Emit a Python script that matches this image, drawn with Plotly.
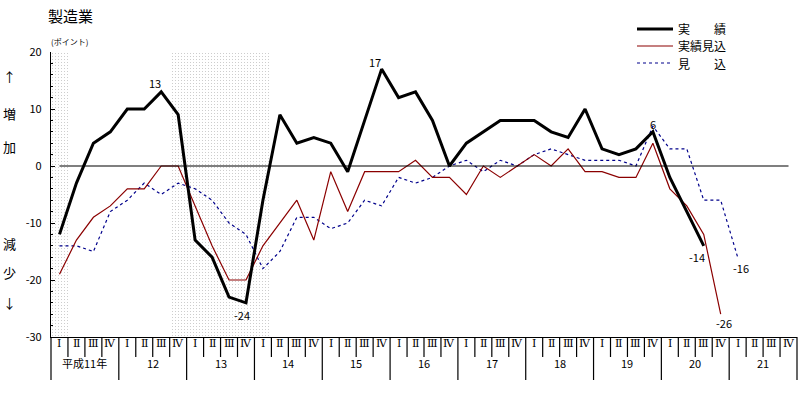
import plotly.graph_objects as go

# ---- data ----
quarter_names = ["Ⅰ", "Ⅱ", "Ⅲ", "Ⅳ"]
year_labels = ["平成11年", "12", "13", "14", "15", "16", "17", "18", "19", "20", "21"]
jisseki = [-12, -3, 4, 6, 10, 10, 13, 9, -13, -16, -23, -24, -6, 9, 4, 5, 4, -1, 8, 17,
           12, 13, 8, 0, 4, 6, 8, 8, 8, 6, 5, 10, 3, 2, 3, 6, -2, -8, -14]
jisseki_mikomi = [-19, -13, -9, -7, -4, -4, 0, 0, -7, -14, -20, -20, -14, -10, -6, -13, -1, -8, -1, -1,
                  -1, 1, -2, -2, -5, 0, -2, 0, 2, 0, 3, -1, -1, -2, -2, 4, -4, -7, -12, -26]
mikomi = [-14, -14, -15, -8, -6, -3, -5, -3, -4, -6, -10, -12, -18, -15, -9, -9, -11, -10, -6, -7,
          -2, -3, -2, 0, 1, -1, 1, 0, 2, 3, 2, 1, 1, 1, 0, 7, 3, 3, -6, -6, -16]
shaded_quarters = [0, 7, 8, 9, 10, 11, 12]
y_ticks = [20, 10, 0, -10, -20, -30]
series_names = ["実　　績", "実績見込", "見　　込"]

n_q = len(year_labels) * 4
FONT = "Noto Sans CJK JP"
ROMAN_FONT = "DejaVu Serif, Liberation Serif, serif"
W, H = 811, 396
ML, MR, MT, MB = 51, 14, 52, 59
PW, PH = W - ML - MR, H - MT - MB


def px_x(p):
    return (p - ML) / PW


def px_y(p):
    return (H - MB - p) / PH


fig = go.Figure()

# shaded periods
fig.add_trace(go.Bar(
    x=shaded_quarters, y=[50] * len(shaded_quarters), base=-30, width=1,
    marker=dict(color="white", line=dict(width=0),
                pattern=dict(shape=".", fgcolor="#8a8a8a", bgcolor="white", size=3, solidity=0.12)),
    showlegend=False, hoverinfo="skip"))

fig.add_trace(go.Scatter(x=list(range(len(mikomi))), y=mikomi, mode="lines",
                         line=dict(color="#00008b", width=1.2, dash="3px,3px"),
                         showlegend=False))
fig.add_trace(go.Scatter(x=list(range(len(jisseki_mikomi))), y=jisseki_mikomi, mode="lines",
                         line=dict(color="#8b0000", width=1.2), showlegend=False))
fig.add_trace(go.Scatter(x=list(range(len(jisseki))), y=jisseki, mode="lines",
                         line=dict(color="black", width=3), showlegend=False))

shapes = []
# zero line
shapes.append(dict(type="line", xref="x", yref="y", x0=0, x1=n_q - 1, y0=0, y1=0,
                   line=dict(color="black", width=1.2)))
# bottom table separators
for b in range(n_q + 1):
    bottom = px_y(380) if b % 4 == 0 else px_y(357)
    shapes.append(dict(type="line", xref="paper", yref="paper", x0=b / n_q, x1=b / n_q,
                       y0=0, y1=bottom, line=dict(color="black", width=1.2)))

annotations = []
for i in range(n_q):
    annotations.append(dict(x=i, y=px_y(351.5), xref="x", yref="paper", text=quarter_names[i % 4],
                            showarrow=False, font=dict(family=ROMAN_FONT, size=11, color="black")))
for k, lab in enumerate(year_labels):
    annotations.append(dict(x=k * 4 + 1.5, y=px_y(373), xref="x", yref="paper", text=lab,
                            showarrow=False, font=dict(family=FONT, size=11, color="black")))

# data labels
def lab(series, i, dx, dy):
    annotations.append(dict(x=i, y=series[i], xref="x", yref="y", text=str(series[i]),
                            showarrow=False, xshift=dx, yshift=dy,
                            font=dict(family=FONT, size=11, color="black")))

lab(jisseki, 6, -6, 9)
lab(jisseki, 11, -4, -12)
lab(jisseki, 19, -7, 7)
lab(jisseki, 35, 0, 8)
lab(jisseki, 38, -7, -11)
lab(jisseki_mikomi, 39, 3, -9)
lab(mikomi, 40, 3, -11)

# title, units, side labels
annotations.append(dict(x=px_x(46), y=px_y(15), xref="paper", yref="paper", text="製造業",
                        showarrow=False, xanchor="left", yanchor="middle",
                        font=dict(family=FONT, size=15, color="black")))
annotations.append(dict(x=px_x(49), y=px_y(41.5), xref="paper", yref="paper", text="(ポイント)",
                        showarrow=False, xanchor="left", yanchor="middle",
                        font=dict(family=FONT, size=8, color="black")))
for txt, py in [("↑", 76), ("増", 113), ("加", 146), ("減", 243), ("少", 272), ("↓", 302)]:
    annotations.append(dict(x=px_x(9), y=px_y(py), xref="paper", yref="paper", text=txt,
                            showarrow=False, xanchor="center", yanchor="middle",
                            font=dict(family=FONT, size=13, color="black")))

# legend (manual)
leg_styles = [dict(color="black", width=3), dict(color="#8b0000", width=1.2),
              dict(color="#00008b", width=1.2, dash="3px,3px")]
for k, (name, st) in enumerate(zip(series_names, leg_styles)):
    py = 29 + 17 * k
    shapes.append(dict(type="line", xref="paper", yref="paper", x0=px_x(637), x1=px_x(673),
                       y0=px_y(py), y1=px_y(py), line=st))
    annotations.append(dict(x=px_x(676), y=px_y(py), xref="paper", yref="paper", text=name,
                            showarrow=False, xanchor="left", yanchor="middle",
                            font=dict(family=FONT, size=12, color="black")))

fig.update_layout(
    width=W, height=H, margin=dict(l=ML, r=MR, t=MT, b=MB, pad=0),
    plot_bgcolor="white", paper_bgcolor="white", bargap=0,
    shapes=shapes, annotations=annotations, showlegend=False,
    xaxis=dict(range=[-0.5, n_q - 0.5], showgrid=False, zeroline=False, showticklabels=False,
               ticks="", showline=True, linecolor="black", linewidth=1.2, fixedrange=True),
    yaxis=dict(range=[-30, 20], showgrid=False, zeroline=False, showline=True, linecolor="black",
               linewidth=1.2, ticks="inside", ticklen=4, tickwidth=1, tickcolor="black",
               tickvals=y_ticks, ticktext=[str(v) for v in y_ticks], ticklabelstandoff=6,
               tickfont=dict(family=FONT, size=11, color="black"),
               minor=dict(dtick=2, ticks="inside", ticklen=2, tickcolor="black", tickwidth=1)),
)

fig.write_html("out.html", config={"displayModeBar": False},
               post_script="document.body.style.margin='0px';document.body.style.overflow='hidden';")
